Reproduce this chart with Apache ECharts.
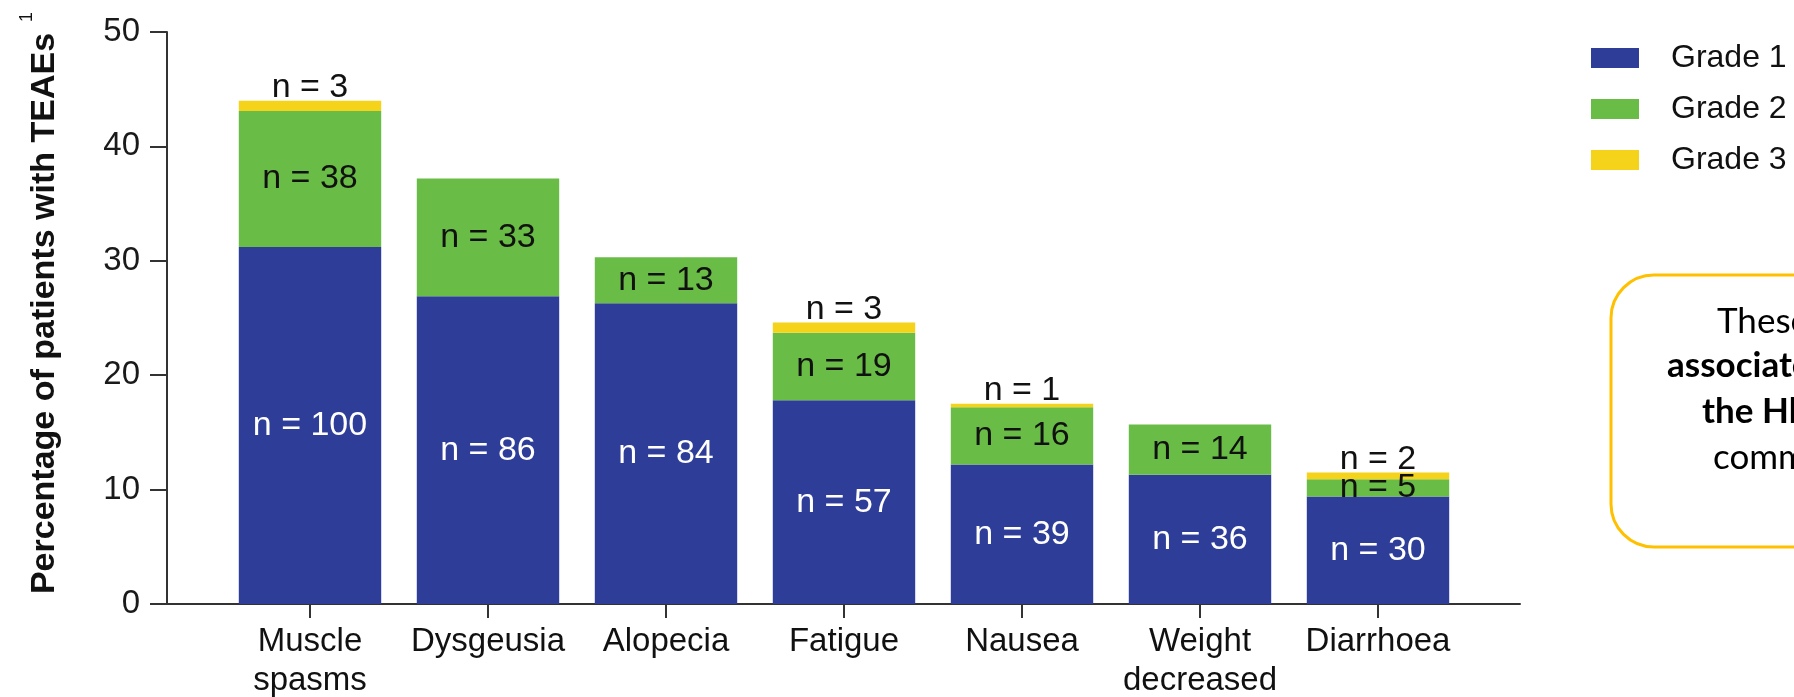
<!DOCTYPE html>
<html>
<head>
<meta charset="utf-8">
<script src="https://cdn.jsdelivr.net/npm/echarts@6/dist/echarts.min.js"></script>
<style>
html,body{margin:0;padding:0;background:#fff;}
#chart{width:1794px;height:697px;}
</style>
</head>
<body>
<div id="chart"></div>
<script>
const categories = ['Muscle\nspasms', 'Dysgeusia', 'Alopecia', 'Fatigue', 'Nausea', 'Weight\ndecreased', 'Diarrhoea'];
const grade1 = [31.2, 26.9, 26.3, 17.8, 12.2, 11.3, 9.4];
const grade2 = [11.9, 10.3, 4.0, 5.9, 5.0, 4.4, 1.5];
const grade3 = [0.9, null, null, 0.9, 0.3, null, 0.6];
const grade1N = [100, 86, 84, 57, 39, 36, 30];
const grade2N = [38, 33, 13, 19, 16, 14, 5];
const grade3N = [3, null, null, 3, 1, null, 2];
const yTicks = [0, 10, 20, 30, 40, 50];
const seriesNames = ['Grade 1', 'Grade 2', 'Grade 3'];
const colors = ['#2E3D98', '#69BC45', '#F6D31B'];
const yTitle = 'Percentage of patients with TEAEs';
const boxLines = ['These AEs are', 'associated with', 'the Hh pathway', 'common to all'];

const FONT = '"Liberation Sans", Arial, Helvetica, sans-serif';
const chart = echarts.init(document.getElementById('chart'), null, {renderer: 'canvas'});

function lbl(nArr, color, pos, dist) {
  return {
    show: true,
    position: pos,
    distance: dist,
    color: color,
    fontFamily: FONT,
    fontSize: 34,
    formatter: p => (nArr[p.dataIndex] == null ? '' : 'n = ' + nArr[p.dataIndex])
  };
}

const option = {
  animation: false,
  backgroundColor: '#ffffff',
  color: colors,
  grid: [
    {left: 221, right: 327, top: 32, bottom: 93, containLabel: false, outerBoundsMode: 'none'},
    {left: 167, right: 274, top: 32, bottom: 93, containLabel: false, outerBoundsMode: 'none'}
  ],
  legend: {
    orient: 'vertical',
    left: 1586,
    top: 30,
    icon: 'rect',
    itemWidth: 48,
    itemHeight: 20,
    itemGap: 5,
    data: seriesNames,
    textStyle: {fontFamily: FONT, fontSize: 32, lineHeight: 32, color: '#111', padding: [14, 0, 0, 27]}
  },
  xAxis: [
    {
      type: 'category',
      gridIndex: 0,
      data: categories,
      axisLine: {show: false},
      axisTick: {show: true, alignWithLabel: true, length: 14, lineStyle: {color: '#333', width: 2}},
      axisLabel: {fontFamily: FONT, fontSize: 33, lineHeight: 39, color: '#111', margin: 18, interval: 0}
    },
    {
      type: 'value',
      gridIndex: 1,
      min: 0, max: 1,
      axisLine: {show: true, lineStyle: {color: '#333', width: 2}},
      axisTick: {show: false},
      axisLabel: {show: false},
      splitLine: {show: false}
    }
  ],
  yAxis: [
    {
      type: 'value',
      gridIndex: 0,
      min: yTicks[0],
      max: yTicks[yTicks.length - 1],
      interval: 10,
      offset: 54,
      axisLine: {show: true, lineStyle: {color: '#333', width: 2}},
      axisTick: {show: true, length: 17, lineStyle: {color: '#333', width: 2}},
      axisLabel: {fontFamily: FONT, fontSize: 33, color: '#1a1a1a', margin: 27},
      splitLine: {show: false},
      name: yTitle,
      nameLocation: 'middle',
      nameRotate: 90,
      nameGap: 105,
      nameTextStyle: {fontFamily: FONT, fontSize: 34, fontWeight: 'bold', color: '#111', padding: [0, 0, 0, 9]}
    },
    {
      type: 'value',
      gridIndex: 1,
      show: false
    }
  ],
  series: [
    {
      name: seriesNames[0], type: 'bar', stack: 'g', xAxisIndex: 0, yAxisIndex: 0,
      barCategoryGap: '20%', data: grade1,
      label: lbl(grade1N, '#ffffff', 'inside', 5)
    },
    {
      name: seriesNames[1], type: 'bar', stack: 'g', xAxisIndex: 0, yAxisIndex: 0,
      barCategoryGap: '20%', data: grade2,
      label: lbl(grade2N, '#111111', 'inside', 5)
    },
    {
      name: seriesNames[2], type: 'bar', stack: 'g', xAxisIndex: 0, yAxisIndex: 0,
      barCategoryGap: '20%', data: grade3,
      label: lbl(grade3N, '#111111', 'top', -4)
    }
  ],
  graphic: [
    {
      type: 'text', x: 27, y: 17, rotation: Math.PI / 2,
      style: {text: '1', fontFamily: FONT, fontSize: 18, fill: '#111', align: 'center', verticalAlign: 'middle'}
    },
    {
      type: 'rect', shape: {x: 1611, y: 275, width: 420, height: 272, r: 43},
      style: {fill: 'none', stroke: '#FFC000', lineWidth: 3}
    },
    {
      type: 'text', x: 1717, y: 322,
      style: {text: boxLines[0], fontFamily: 'Lato, "Open Sans", sans-serif', fontSize: 35, fill: '#000', align: 'left', verticalAlign: 'middle'}
    },
    {
      type: 'text', x: 1667, y: 366,
      style: {text: boxLines[1], fontFamily: 'Lato, "Open Sans", sans-serif', fontWeight: 'bold', fontSize: 35, fill: '#000', align: 'left', verticalAlign: 'middle'}
    },
    {
      type: 'text', x: 1702, y: 412,
      style: {text: boxLines[2], fontFamily: 'Lato, "Open Sans", sans-serif', fontWeight: 'bold', fontSize: 35, fill: '#000', align: 'left', verticalAlign: 'middle'}
    },
    {
      type: 'text', x: 1713, y: 458,
      style: {text: boxLines[3], fontFamily: 'Lato, "Open Sans", sans-serif', fontSize: 35, fill: '#000', align: 'left', verticalAlign: 'middle'}
    }
  ]
};
chart.setOption(option);
</script>
</body>
</html>
